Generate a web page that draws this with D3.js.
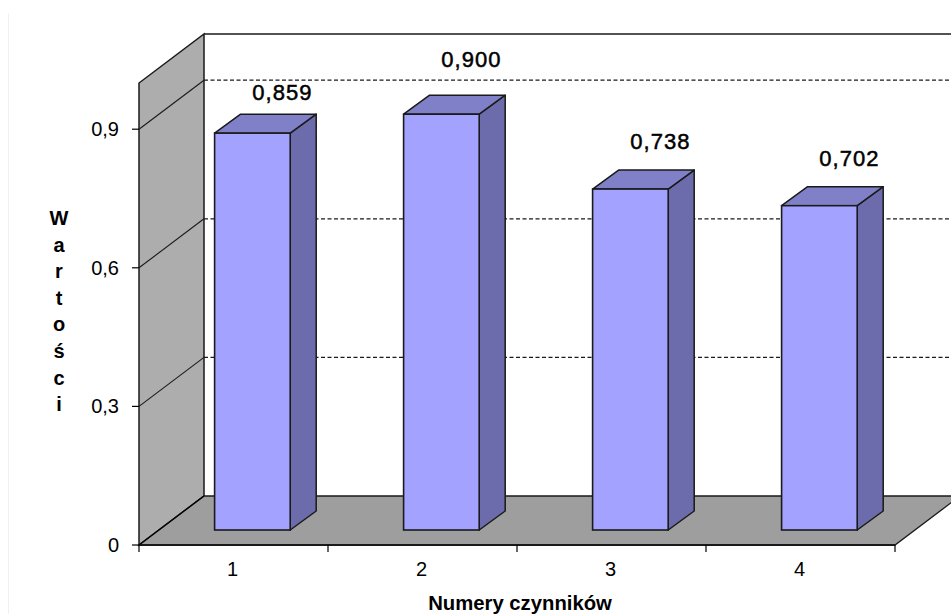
<!DOCTYPE html>
<html><head><meta charset="utf-8">
<style>html,body{margin:0;background:#fff}svg{display:block}text{font-family:"Liberation Sans",Arial,sans-serif;fill:#000}</style>
<script src="https://cdnjs.cloudflare.com/ajax/libs/d3/7.8.5/d3.min.js"></script>
</head><body><script>
const categories = ["1","2","3","4"];
const values = [0.859,0.900,0.738,0.702];
const valueLabels = ["0,859","0,900","0,738","0,702"];
const yTicks = [0,0.3,0.6,0.9];
const yTickLabels = ["0","0,3","0,6","0,9"];
const axisTitleY = "Wartości";
const axisTitleX = "Numery czynników";

const W=951,H=614;
const svg=d3.select("body").append("svg").attr("width",W).attr("height",H);
const x0=139,x1=895,y0=545,yTop=83;
const depthX=65,depthY=-49;     // oblique offset of the back wall
const barDX=26,barDY=-19;       // oblique depth of each bar
const barLift=15;               // bars stand slightly behind the front floor edge
const y=d3.scaleLinear().domain([0,1]).range([y0,yTop]);
const x=d3.scaleBand().domain(categories).range([x0,x1]);
const barW=x.bandwidth()*0.4;
const poly=p=>p.map(q=>q.join(",")).join(" ");
const dark="#1a1a1a";

// faint frame edge on the left of the page
svg.append("line").attr("x1",8.5).attr("x2",8.5).attr("y1",13).attr("y2",H).attr("stroke","#f1f1f1");

// side wall, back wall and floor
svg.append("polygon").attr("points",poly([[x0,y0],[x0,y(1)],[x0+depthX,y(1)+depthY],[x0+depthX,y0+depthY]]))
  .attr("fill","#adadad").attr("stroke",dark).attr("stroke-width",1.5);
svg.append("line").attr("x1",x0+depthX).attr("x2",W).attr("y1",y(1)+depthY).attr("y2",y(1)+depthY).attr("stroke",dark).attr("stroke-width",1.5);
svg.append("polygon").attr("points",poly([[x0,y0],[x1,y0],[x1+depthX,y0+depthY],[x0+depthX,y0+depthY]]))
  .attr("fill","#9e9e9e").attr("stroke",dark).attr("stroke-width",1.3);
svg.append("line").attr("x1",x0).attr("x2",x1).attr("y1",y0).attr("y2",y0).attr("stroke",dark).attr("stroke-width",2);

// gridlines: dashed across the back wall, solid across the side wall
const gridVals=[0.3,0.6,0.9];
svg.selectAll(".gb").data(gridVals).join("line")
  .attr("x1",x0+depthX).attr("x2",W).attr("y1",d=>y(d)+depthY).attr("y2",d=>y(d)+depthY)
  .attr("stroke",dark).attr("stroke-width",1.2).attr("stroke-dasharray","4,2.5");
svg.selectAll(".gs").data(gridVals).join("line")
  .attr("x1",x0).attr("x2",x0+depthX).attr("y1",d=>y(d)).attr("y2",d=>y(d)+depthY)
  .attr("stroke",dark).attr("stroke-width",1.1);
svg.append("line").attr("x1",x0).attr("x2",x0+depthX).attr("y1",y0).attr("y2",y0+depthY).attr("stroke","#000").attr("stroke-width",1.1);

// bars
const g=svg.selectAll(".bar").data(values).join("g").attr("class","bar");
const bx=(d,i)=>x(categories[i])+barW;
const by=barLift;
g.append("polygon").attr("points",(d,i)=>{const l=bx(d,i)+barW,t=y(d)-by,b=y0-by;
  return poly([[l,b],[l,t],[l+barDX,t+barDY],[l+barDX,b+barDY]]);})
  .attr("fill","#6c6cac").attr("stroke",dark).attr("stroke-width",1.5).attr("stroke-linejoin","round");
g.append("polygon").attr("points",(d,i)=>{const l=bx(d,i),t=y(d)-by;
  return poly([[l,t],[l+barW,t],[l+barW+barDX,t+barDY],[l+barDX,t+barDY]]);})
  .attr("fill","#8080c8").attr("stroke",dark).attr("stroke-width",1.5).attr("stroke-linejoin","round");
g.append("rect").attr("x",(d,i)=>bx(d,i)).attr("y",d=>y(d)-by).attr("width",barW).attr("height",d=>y0-y(d))
  .attr("fill","#a3a3ff").attr("stroke",dark).attr("stroke-width",1.6);

// value labels, lifted individually above the bars
const labelLift=[40,54,47,47];
g.append("text").attr("x",(d,i)=>bx(d,i)+barW/2+30).attr("y",(d,i)=>y(d)-by-labelLift[i]+7)
  .attr("text-anchor","middle").attr("font-size",22).attr("letter-spacing",1).attr("stroke","#000").attr("stroke-width",0.5)
  .text((d,i)=>valueLabels[i]);

// value axis
yTicks.forEach((t,i)=>{
  svg.append("line").attr("x1",x0-7).attr("x2",x0).attr("y1",y(t)).attr("y2",y(t)).attr("stroke","#000").attr("stroke-width",1.2);
  svg.append("text").attr("x",119).attr("y",y(t)+7).attr("text-anchor","end").attr("font-size",20).text(yTickLabels[i]);
});
// category axis
d3.range(categories.length+1).forEach(i=>{
  const tx=i<categories.length?x(categories[i]):x1;
  svg.append("line").attr("x1",tx).attr("x2",tx).attr("y1",y0).attr("y2",y0+7).attr("stroke","#000").attr("stroke-width",1.2);
});
categories.forEach(c=>svg.append("text").attr("x",x(c)+x.bandwidth()/2-1).attr("y",576).attr("text-anchor","middle").attr("font-size",20).text(c));

// axis titles; the vertical one is stacked letter by letter
Array.from(axisTitleY).forEach((ch,i)=>svg.append("text").attr("x",59).attr("y",225+i*26.6)
  .attr("text-anchor","middle").attr("font-size",20).attr("font-weight","bold").text(ch));
svg.append("text").attr("x",520).attr("y",610).attr("text-anchor","middle").attr("font-size",20.3).attr("font-weight","bold").text(axisTitleX);
</script></body></html>
